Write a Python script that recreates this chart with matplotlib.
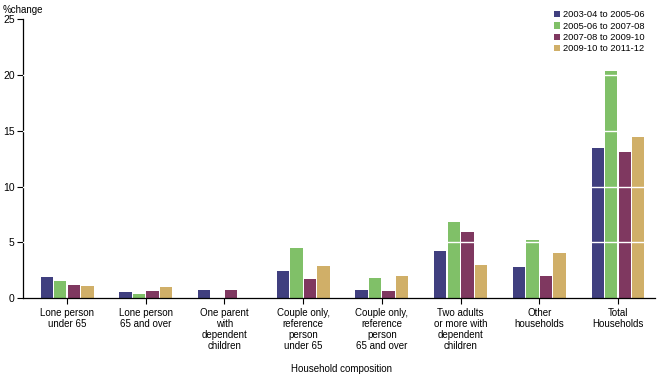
import matplotlib
matplotlib.use("Agg")
import matplotlib.pyplot as plt
import numpy as np

plt.rcParams['font.family'] = ['Liberation Sans', 'DejaVu Sans']

categories = ["Lone person\nunder 65", "Lone person\n65 and over", "One parent\nwith\ndependent\nchildren",
              "Couple only,\nreference\nperson\nunder 65", "Couple only,\nreference\nperson\n65 and over",
              "Two adults\nor more with\ndependent\nchildren", "Other\nhouseholds", "Total\nHouseholds"]
series_names = ["2003-04 to 2005-06", "2005-06 to 2007-08", "2007-08 to 2009-10", "2009-10 to 2011-12"]
s1 = [1.9, 0.5, 0.7, 2.4, 0.7, 4.2, 2.8, 13.5]
s2 = [1.5, 0.4, 0.0, 4.5, 1.8, 6.8, 5.2, 20.4]
s3 = [1.2, 0.6, 0.7, 1.7, 0.6, 5.9, 2.0, 13.1]
s4 = [1.1, 1.0, 0.0, 2.9, 2.0, 3.0, 4.0, 14.4]
colors = ["#403F7F", "#80C068", "#7F3860", "#D0AF68"]
yticks = [0, 5, 10, 15, 20, 25]

fig = plt.figure(figsize=(6.61, 3.78), dpi=100)
ax = fig.add_axes([23/661, 1-298/378, (655-23)/661, (298-19.3)/378])

x = np.arange(len(categories))
w = 0.172
for i, (vals, c, name) in enumerate(zip([s1, s2, s3, s4], colors, series_names)):
    ax.bar(x + (i - 1.5) * w, vals, width=w - 0.015, color=c, label=name, zorder=2, linewidth=0)

for yv in yticks[1:-1]:
    ax.axhline(yv, color='white', linewidth=1.0, zorder=3)

ax.set_xlim(-0.56, 7.47)
ax.set_ylim(0, 25)
ax.set_yticks(yticks)
ax.set_xticks(x)
ax.set_xticklabels(categories, fontsize=7, linespacing=1.15)
ax.tick_params(axis='y', labelsize=7.5, length=4, width=0.8, pad=2)
ax.tick_params(axis='x', length=4, width=0.8, pad=3)
for s in ['top', 'right']:
    ax.spines[s].set_visible(False)
for s in ['left', 'bottom']:
    ax.spines[s].set_linewidth(0.9)

fig.text(3/661, 1-10/378, "%change", fontsize=7, va='center', ha='left')
fig.text(342/661, 1-369/378, "Household composition", fontsize=7, va='center', ha='center')

leg = ax.legend(loc='upper right', bbox_to_anchor=(0.99, 1.045), frameon=False, fontsize=6.7,
                handlelength=0.65, handleheight=0.65, handletextpad=0.4, labelspacing=0.25, borderaxespad=0)

fig.savefig("out.png", dpi=100)
